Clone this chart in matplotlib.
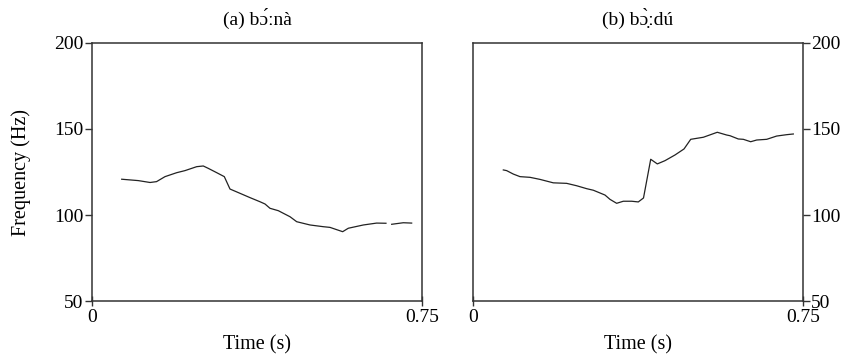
import numpy as np
import matplotlib
matplotlib.use("Agg")
import matplotlib.pyplot as plt

plt.rcParams['font.family'] = ['Liberation Serif', 'DejaVu Serif']

# ==== data ====
# (a) bɔ́ːnà  (NaN = break in the pitch track)
t_a = [0.0675, 0.1052, 0.1319, 0.1467, 0.1659, 0.1925, 0.2113, 0.2380, 0.2529,
       0.2644, 0.2835, 0.3007, 0.3136, 0.3364, 0.3591, 0.3819, 0.3932, 0.4045,
       0.4235, 0.4348, 0.4500, 0.4652, 0.4955, 0.5257, 0.5409, 0.5697, 0.5825,
       0.6167, 0.6469, 0.6681, 0.6750, 0.6811, 0.7075, 0.7265]
f_a = [120.8, 120.0, 118.9, 119.4, 122.3, 124.6, 125.8, 128.1, 128.5,
       127.1, 124.6, 122.3, 115.1, 112.6, 110.1, 107.7, 106.4, 103.9,
       102.5, 101.0, 99.0, 96.1, 94.2, 93.2, 92.8, 90.3, 92.3,
       94.2, 95.3, 95.2, np.nan, 94.6, 95.5, 95.3]

# (b) bɔ̣̀ːdú
t_b = [0.0689, 0.0765, 0.0916, 0.1068, 0.1296, 0.1523, 0.1825, 0.2129, 0.2357,
       0.2584, 0.2735, 0.3000, 0.3113, 0.3265, 0.3416, 0.3607, 0.3757, 0.3875,
       0.4039, 0.4189, 0.4364, 0.4591, 0.4796, 0.4948, 0.5235, 0.5552, 0.5765,
       0.5841, 0.6029, 0.6144, 0.6311, 0.6448, 0.6675, 0.6901, 0.7129, 0.7280]
f_b = [126.2, 125.8, 123.8, 122.3, 121.9, 120.7, 118.7, 118.4, 117.0,
       115.3, 114.4, 111.6, 109.1, 106.8, 108.0, 108.0, 107.6, 109.9,
       132.4, 129.7, 131.6, 134.9, 138.4, 144.0, 145.2, 148.1, 146.5,
       146.1, 144.2, 144.0, 142.6, 143.6, 144.0, 145.9, 146.7, 147.1]

titles = ['(a) b\u0254\u0301\u02d0n\u00e0', '(b) b\u0254\u0323\u0300\u02d0d\u00fa']
y_ticks = [50, 100, 150, 200]
x_ticks = [0, 0.75]
x_ticklabels = ['0', '0.75']

# ==== figure ====
fig = plt.figure(figsize=(8.44, 3.57), dpi=100)
ax1 = fig.add_axes([92 / 844, 1 - 301 / 357, 330 / 844, 258 / 357])
ax2 = fig.add_axes([473 / 844, 1 - 301 / 357, 330 / 844, 258 / 357])

spine_col = '#333333'
for ax, t, f, title in [(ax1, t_a, f_a, titles[0]), (ax2, t_b, f_b, titles[1])]:
    ax.plot(t, f, color='#222222', linewidth=0.9)
    ax.set_xlim(0, 0.75)
    ax.set_ylim(50, 200)
    ax.set_xticks(x_ticks)
    ax.set_xticklabels(x_ticklabels)
    ax.set_yticks(y_ticks)
    ax.set_title(title, fontsize=14, pad=13)
    ax.set_xlabel('Time (s)', fontsize=14.5, labelpad=7)
    for s in ax.spines.values():
        s.set_color(spine_col)
        s.set_linewidth(1.1)
    ax.tick_params(axis='y', direction='out', length=5, width=1, color=spine_col,
                   labelsize=14, pad=1)
    ax.tick_params(axis='x', direction='inout', length=7, width=1, color=spine_col,
                   labelsize=14, pad=2)

ax1.set_ylabel('Frequency (Hz)', fontsize=14.5, labelpad=17)
ax2.yaxis.tick_right()

fig.savefig('out.png', dpi=100)
